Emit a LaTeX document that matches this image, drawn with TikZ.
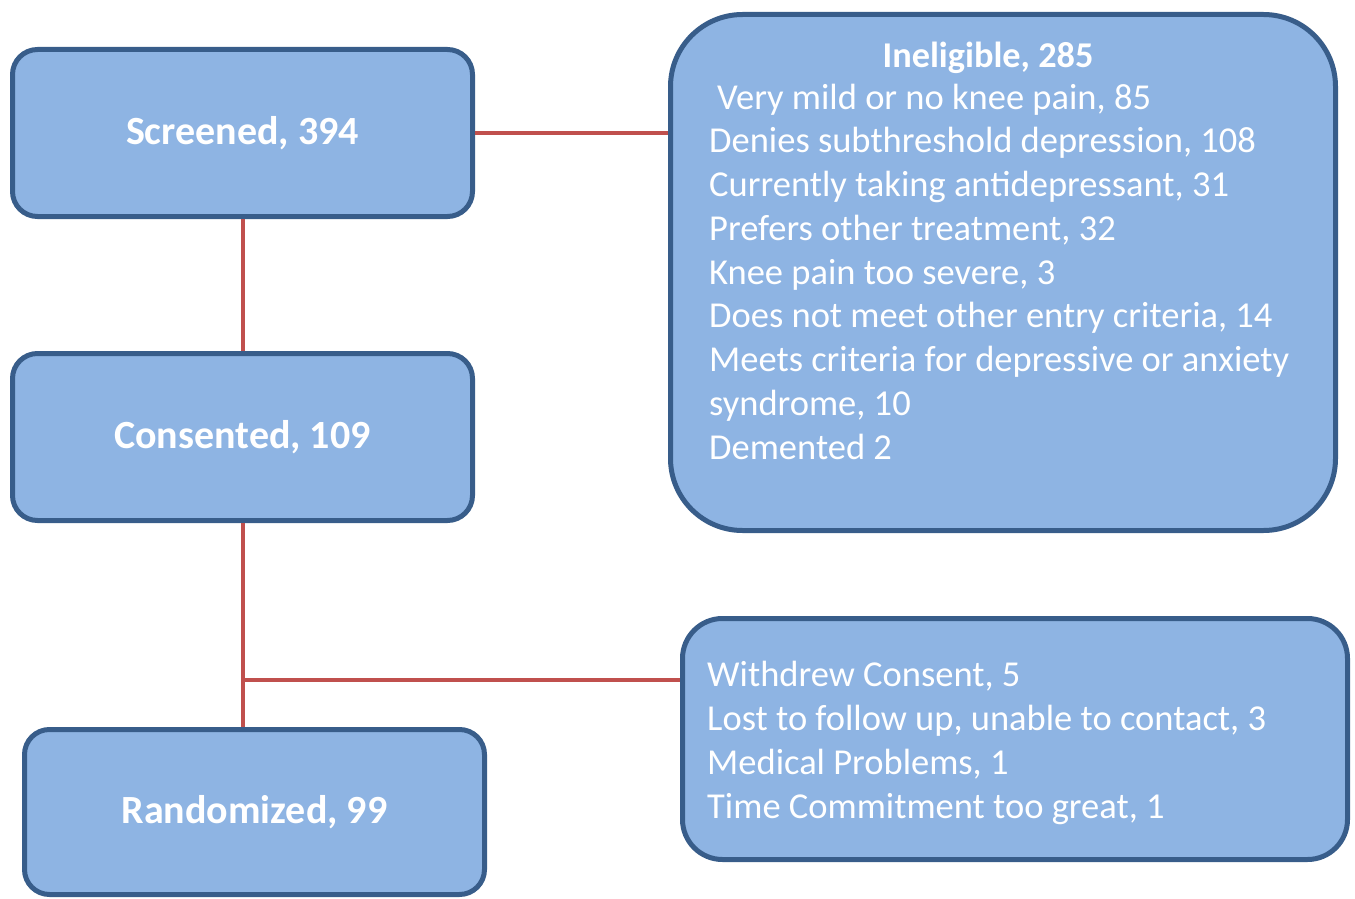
\documentclass[tikz,border=0pt]{standalone}
\usepackage{fontspec}
\setmainfont{Carlito}
\definecolor{boxfill}{RGB}{142,180,227}
\definecolor{boxline}{RGB}{56,93,138}
\definecolor{linkred}{RGB}{192,80,77}
\begin{document}
\begin{tikzpicture}[x=1pt,y=-1pt,
  flowbox/.style={draw=boxline, fill=boxfill, line width=5pt, rounded corners=25pt, inner sep=0pt,
     text=white, font=\fontsize{40}{48}\selectfont\bfseries},
  listtext/.style={text=white, font=\fontsize{36.5}{43.75}\selectfont, align=left, inner sep=0pt, anchor=base west},
  link/.style={draw=linkred, line width=4pt}]
\useasboundingbox (0,0) rectangle (1355,899);
\node[flowbox, minimum width=460pt, minimum height=167pt] (scr) at (242.5,133) {Screened, 394};
\node[flowbox, minimum width=460pt, minimum height=167pt] (con) at (242.5,437) {Consented, 109};
\node[flowbox, minimum width=460pt, minimum height=165pt] (ran) at (254.5,812) {Randomized, 99};
\node[flowbox, rounded corners=72pt, minimum width=665pt, minimum height=516pt] (inel) at (1003,272.5) {};
\node[flowbox, rounded corners=40pt, minimum width=665pt, minimum height=241pt] (wd) at (1015,739) {};
\node[text=white, font=\fontsize{36.3}{44}\selectfont\bfseries, inner sep=0pt, anchor=base] (ineltitle) at (988,67) {Ineligible, 285};
\node[listtext] (inellist) at (709,459) {\hspace*{8pt}Very mild or no knee pain, 85\\
Denies subthreshold depression, 108\\
Currently taking antidepressant, 31\\
Prefers other treatment, 32\\
Knee pain too severe, 3\\
Does not meet other entry criteria, 14\\
Meets criteria for depressive or anxiety\\
syndrome, 10\\
Demented 2};
\node[listtext, font=\fontsize{36.5}{44}\selectfont] (wdlist) at (707,818) {Withdrew Consent, 5\\
Lost to follow up, unable to contact, 3\\
Medical Problems, 1\\
Time Commitment too great, 1};
\coordinate (j) at (242.5,680);
\draw[link] (scr.east) -- (scr.east -| inel.west);
\draw[link] (scr.south) -- (con.north);
\draw[link] (con.south) -- (con.south |- ran.north);
\draw[link] (j) -- (j -| wd.west);
\end{tikzpicture}
\end{document}
